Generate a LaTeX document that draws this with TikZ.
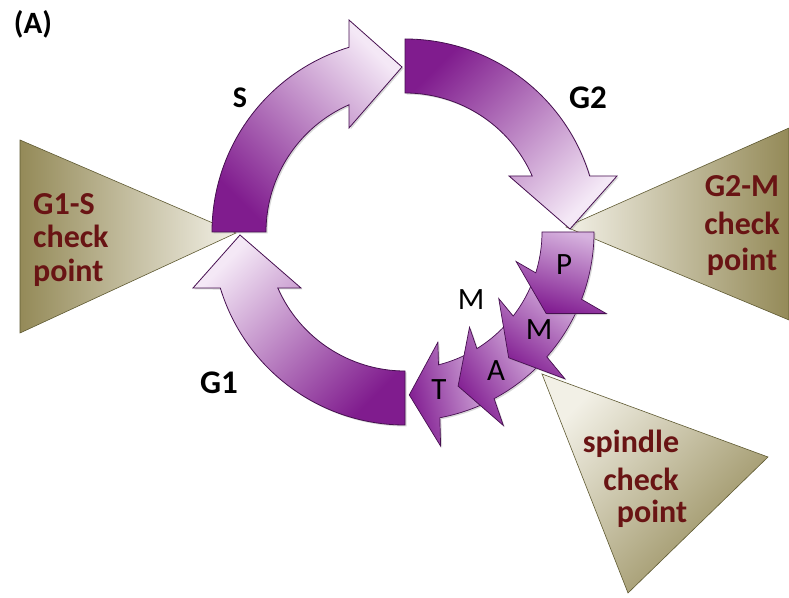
\documentclass[tikz,border=0pt]{standalone}
\usepackage{fontspec}
\setmainfont{Carlito}
\usetikzlibrary{shadows}
\definecolor{pdark}{RGB}{128,28,142}
\definecolor{plight}{RGB}{244,232,246}
\definecolor{pline}{RGB}{70,15,80}
\definecolor{cdark}{RGB}{128,26,144}
\definecolor{clight}{RGB}{214,178,222}
\definecolor{olivez}{RGB}{148,138,88}
\definecolor{creamz}{RGB}{242,240,230}
\definecolor{olinez}{RGB}{95,90,50}
\definecolor{cptextc}{RGB}{105,20,20}
\tikzset{
  mainarrow/.style={draw=pline, line width=0.8pt, top color=plight, bottom color=pdark,
    drop shadow={shadow xshift=1.5pt, shadow yshift=-1.5pt, opacity=0.3}},
  chevron/.style={draw=pline, line width=0.7pt, top color=cdark, bottom color=clight,
    drop shadow={shadow xshift=1.5pt, shadow yshift=-1.5pt, opacity=0.3}},
  cpzone/.style={draw=olinez, line width=0.6pt},
  cptext/.style={font=\bfseries\fontsize{32}{36}\selectfont, text=cptextc, inner sep=0pt},
  phase/.style={font=\bfseries\fontsize{33}{36}\selectfont, inner sep=0pt},
  subphase/.style={font=\fontsize{31}{34}\selectfont, inner sep=0pt},
}
% main arrow: #1 rotation, #2 shading angle
\newcommand{\mainarc}[2]{%
  \begin{scope}[shift={(405,365)}, rotate=#1]
    \path[mainarrow, shading angle=#2] (90:193) arc[start angle=90, end angle=16.87, radius=193]
      -- (212,56) -- (165,3) -- (104,56) -- (23.76:139)
      arc[start angle=23.76, end angle=90, radius=139] -- cycle;
  \end{scope}}
% chevron: #1 tip angle (rotation), #2 local tail angle, #3 shading angle
\newcommand{\chev}[3]{%
  \begin{scope}[shift={(405,365)}, rotate=#1]
    \path[chevron, shading angle=#3] (#2:189) arc[start angle=#2, end angle=9.13, radius=189]
      -- (215,30) -- (163,0) -- (111,30) -- (12.65:137)
      arc[start angle=12.65, end angle=#2, radius=137] -- cycle;
  \end{scope}}
\begin{document}
\begin{tikzpicture}[x=1pt, y=1pt]
  \useasboundingbox (0,0) rectangle (789,597);
  \fill[white] (0,0) rectangle (789,597);

  % checkpoint zones
  \path[cpzone, left color=olivez, right color=creamz] (20,457) -- (20,264) -- (236,364) -- cycle;
  \path[cpzone, left color=creamz, right color=olivez] (789,469) -- (789,277) -- (566,370) -- cycle;
  \path[cpzone, top color=creamz, bottom color=olivez, shading angle=46] (542,223) -- (768,140) -- (628,4) -- cycle;

  % main arrows
  \mainarc{0}{-135}   % G2
  \mainarc{90}{-45}   % S
  \mainarc{180}{45}   % G1

  % mitosis chevrons
  \chev{-88.5}{25.5}{-256}  % T
  \chev{-71}{28}{-237}      % A
  \chev{-50.5}{28.5}{-216}  % M
  \chev{-30}{30}{-196}      % P

  % labels
  \node[phase, font=\bfseries\fontsize{31}{34}\selectfont] (lblA) at (33,573) {(A)};
  \node[phase, font=\bfseries\fontsize{30}{34}\selectfont] (lblS) at (240,499) {S};
  \node[phase] (lblG2) at (588,499) {G2};
  \node[phase] (lblG1) at (219,214) {G1};
  \node[subphase] (lblM) at (471,297) {M};
  \node[subphase] (lblPp) at (564,332) {P};
  \node[subphase] (lblMm) at (539,267) {M};
  \node[subphase] (lblAa) at (496,226) {A};
  \node[subphase] (lblTt) at (439,207) {T};

  \node[cptext, anchor=base west] (gs1) at (33,382) {G1-S};
  \node[cptext, anchor=base west] (gs2) at (33,349) {check};
  \node[cptext, anchor=base west] (gs3) at (33,315) {point};

  \node[cptext, anchor=base] (gm1) at (742,400) {G2-M};
  \node[cptext, anchor=base] (gm2) at (742,362) {check};
  \node[cptext, anchor=base] (gm3) at (742,326) {point};

  \node[cptext, anchor=base] (sp1) at (631,144) {spindle};
  \node[cptext, anchor=base] (sp2) at (641,107) {check};
  \node[cptext, anchor=base] (sp3) at (652,75) {point};
\end{tikzpicture}
\end{document}
